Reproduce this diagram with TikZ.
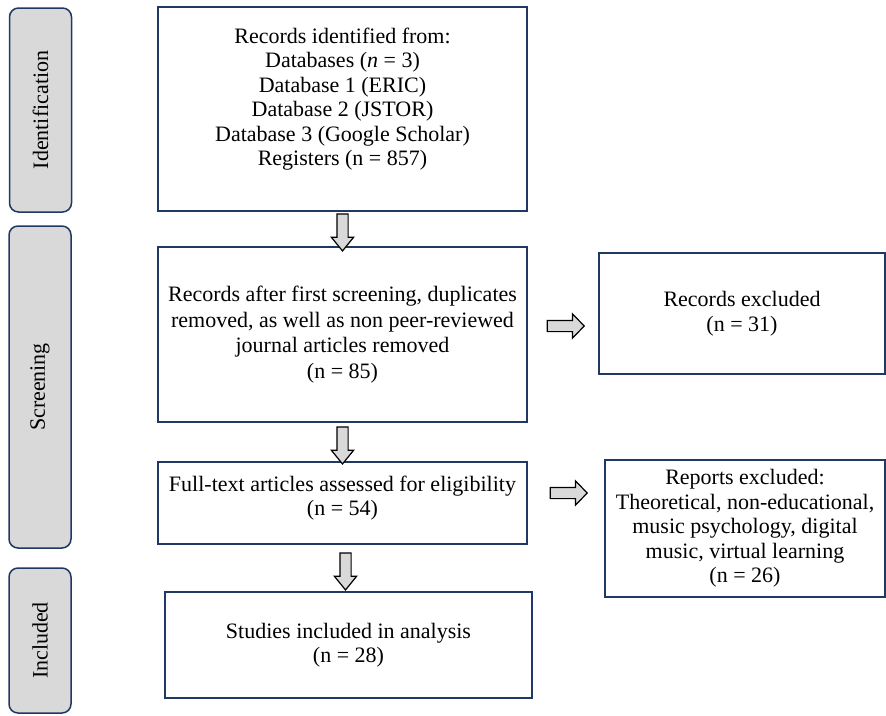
\documentclass[tikz,border=0pt]{standalone}
\usepackage{fontspec}
\setmainfont{Liberation Serif}
\usepackage{tikz}
\usetikzlibrary{positioning,calc,shapes.arrows}
\definecolor{navy}{RGB}{32,56,100}
\definecolor{boxgray}{RGB}{217,217,217}

\begin{document}
\begin{tikzpicture}[x=1pt, y=-1pt,
    every node/.style={font=\fontsize{22}{24.5}\selectfont},
    mainbox/.style={draw=navy, line width=1.5pt, align=center, inner sep=0pt},
    sidebox/.style={draw=navy, line width=1.5pt, fill=boxgray, rounded corners=9pt,
        rotate=90, minimum height=62pt, inner sep=0pt},
    downarr/.style={single arrow, draw=black, fill=boxgray, line width=1.2pt, rotate=-90,
        minimum height=37pt, inner xsep=0pt, inner ysep=5pt,
        single arrow head extend=5.5pt, single arrow tip angle=78},
    rightarr/.style={single arrow, draw=black, fill=boxgray, line width=1.2pt,
        minimum height=37pt, inner xsep=0pt, inner ysep=5pt,
        single arrow head extend=6.5pt, single arrow tip angle=92}]
    \useasboundingbox (0,0) rectangle (886,715);

    % Phases
    \node[sidebox, minimum width=204pt] (ident) at (40.5,110) {Identification};
    \node[sidebox, minimum width=322pt] (scrphase) at (40,387) {Screening};
    \node[sidebox, minimum width=145pt] (incl) at (40,640.5) {Included};

    % Main column
    \node[mainbox, minimum width=369pt, minimum height=204pt] (recid) at (342.5,109) {Records identified from:\\
        Databases (\textit{n} = 3)\\
        Database 1 (ERIC)\\
        Database 2 (JSTOR)\\
        Database 3 (Google Scholar)\\
        Registers (n = 857)\\
        \mbox{}};
    \node[mainbox, minimum width=369pt, minimum height=175pt, font=\fontsize{22}{25.5}\selectfont] (screen) at (342.5,334.5) {Records after first screening, duplicates\\
        removed, as well as non peer-reviewed\\
        journal articles removed\\
        (n = 85)};
    \node[mainbox, minimum width=369pt, minimum height=82pt] (fulltext) at (342.5,503) {Full-text articles assessed for eligibility\\
        (n = 54)\\[-10pt]
        \mbox{}};
    \node[mainbox, minimum width=367pt, minimum height=106pt] (studies) at (348.5,645) {Studies included in analysis\\
        (n = 28)};

    % Excluded
    \node[mainbox, minimum width=286pt, minimum height=121pt] (recexcl) at (742,313.5) {Records excluded\\
        (n = 31)};
    \node[mainbox, minimum width=280pt, minimum height=137pt] (repexcl) at (745,528.5) {Reports excluded:\\
        Theoretical, non-educational,\\
        music psychology, digital\\
        music, virtual learning\\
        (n = 26)};

    % Block arrows
    \node[downarr] (down1) at ($(recid.south)!0.5!(screen.north)$) {};
    \node[downarr] (down2) at ($(screen.south)!0.5!(fulltext.north)$) {};
    \node[downarr] (down3) at ($(fulltext.south)!0.5!(studies.north)$) {};
    \node[rightarr, yshift=-2pt] (right1) at ($(screen.east)!0.5!(recexcl.west)$) {};
    \node[rightarr, yshift=10pt] (right2) at ($(fulltext.east)!0.5!(fulltext.east -| repexcl.west)$) {};
\end{tikzpicture}
\end{document}
